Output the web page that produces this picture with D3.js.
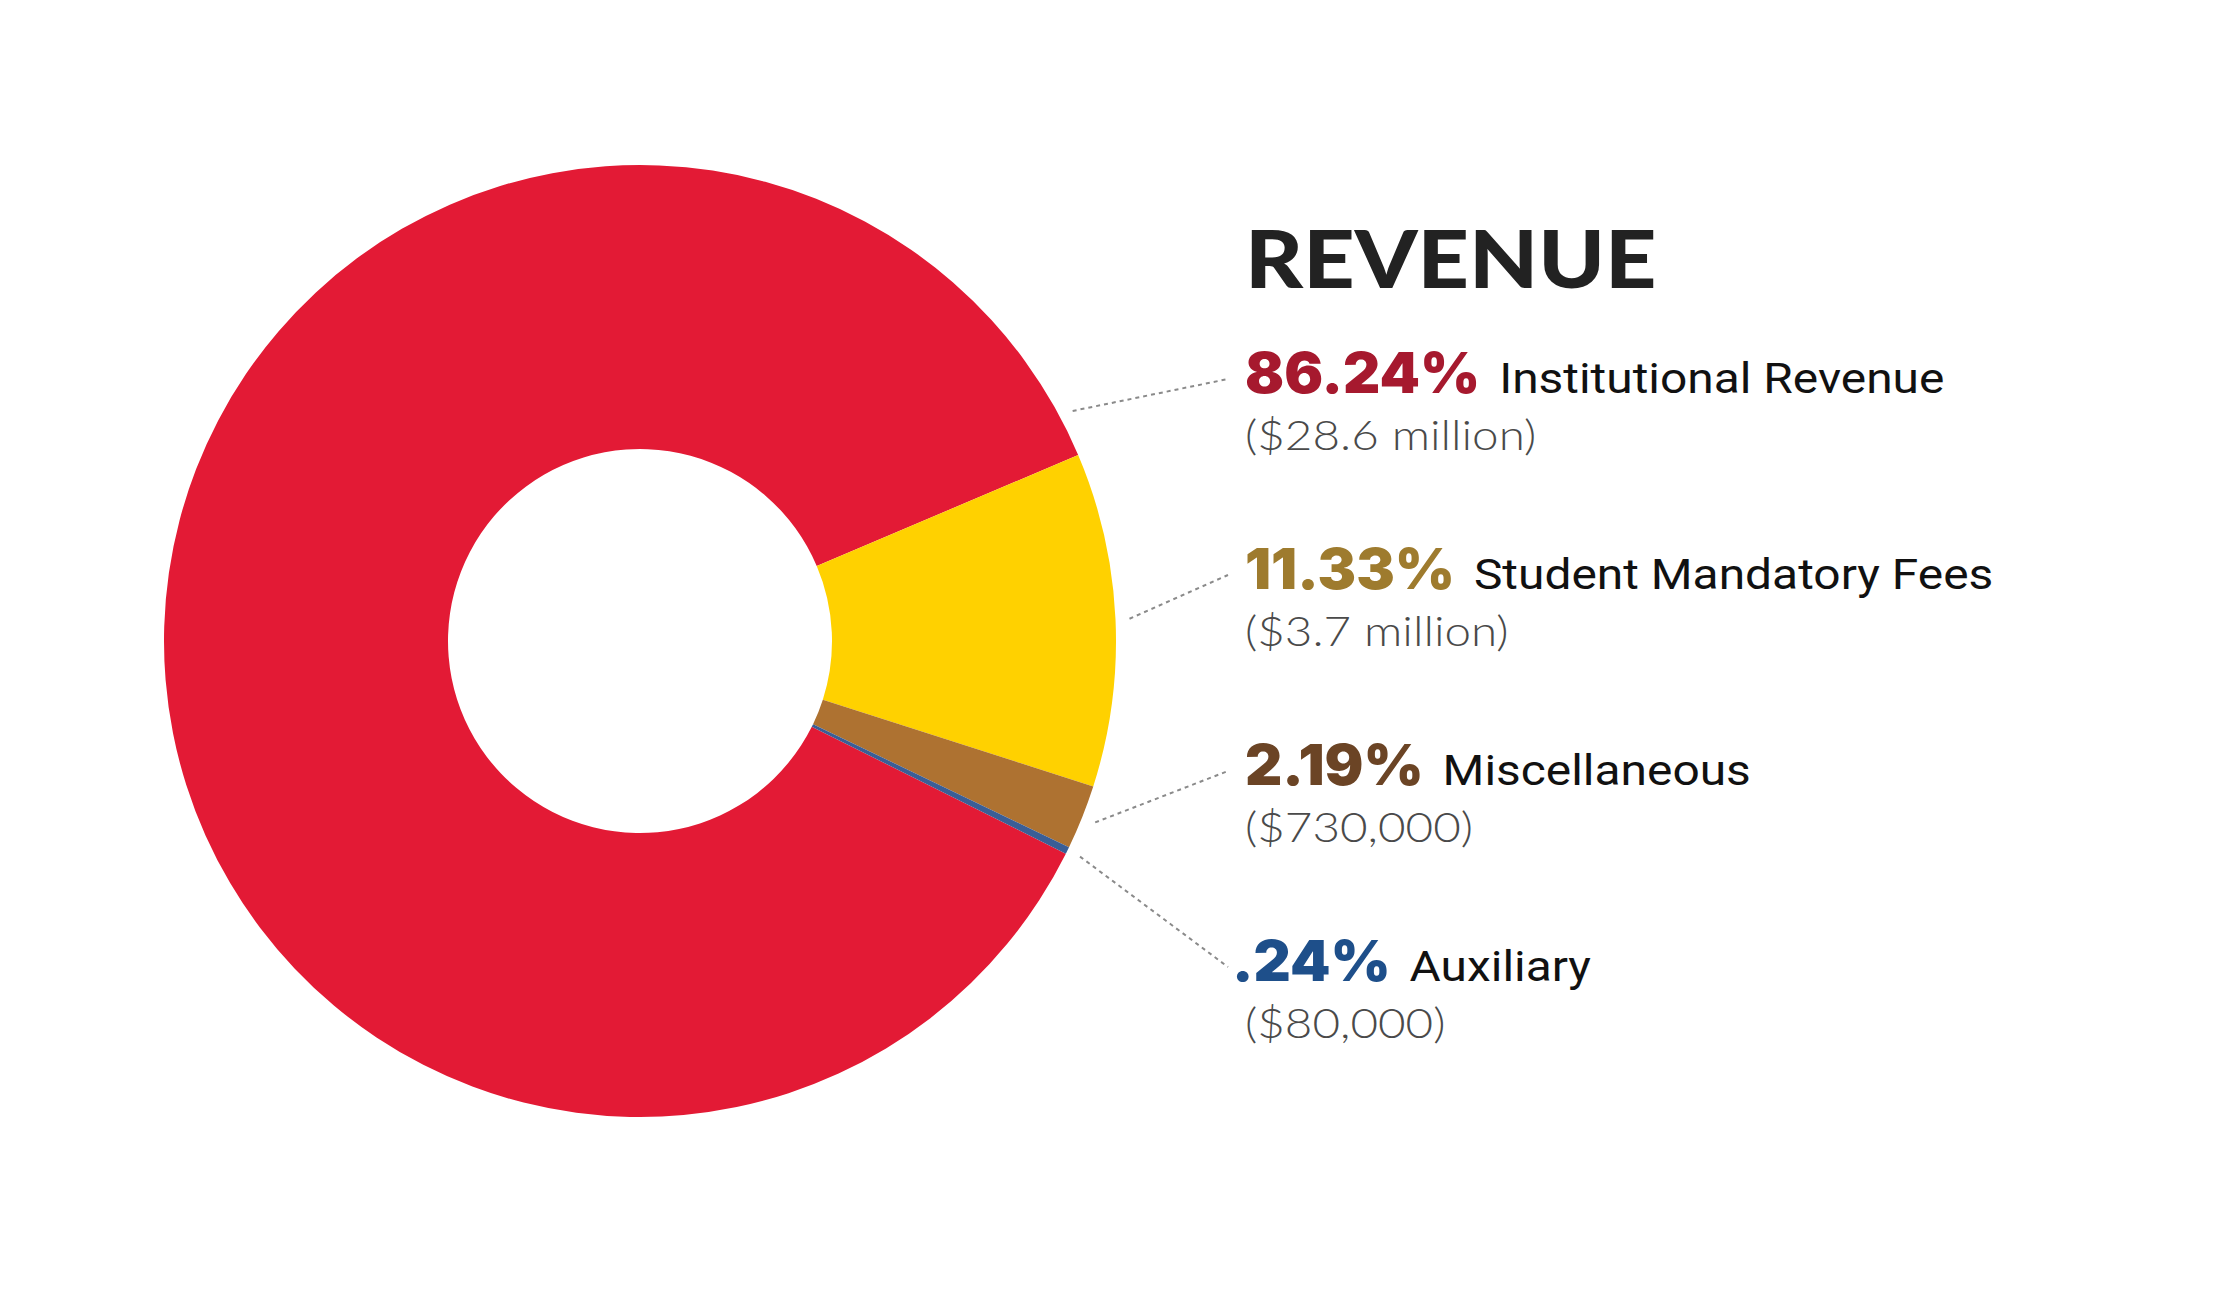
<!DOCTYPE html>
<html>
<head>
<meta charset="utf-8">
<script src="https://cdn.jsdelivr.net/npm/d3@7"></script>
<style>
    html, body { margin: 0; padding: 0; background: #fff; }
    svg { display: block; }
</style>
</head>
<body>
<div id="chart"></div>
<script>
// Data, in label order (top to bottom)
var categories = ["Institutional Revenue", "Student Mandatory Fees", "Miscellaneous", "Auxiliary"];
var shares = [86.24, 11.33, 2.19, 0.24];
var shareLabels = ["86.24%", "11.33%", "2.19%", ".24%"];
var amountLabels = ["($28.6 million)", "($3.7 million)", "($730,000)", "($80,000)"];
var sliceColors = ["#E31A35", "#FFD100", "#AE7231", "#3A5E96"];
var textColors = ["#A6192E", "#9E7B2E", "#6B4425", "#1E4F8A"];
var title = "REVENUE";

var width = 2221, height = 1292;
var cx = 640, cy = 641, outerR = 476, innerR = 192;
var labelX = 1245, titleY = 288, firstY = 393, stepY = 196, subDy = 57;
var deg = Math.PI / 180;
// the big slice ends at ~67deg (clockwise from 12 o'clock)
var startAngle = 67 * deg - (shares[0] / 100) * 2 * Math.PI;

var data = categories.map(function (c, i) {
    return { name: c, value: shares[i], pct: shareLabels[i], amount: amountLabels[i],
             color: sliceColors[i], textColor: textColors[i] };
});

var svg = d3.select("#chart").append("svg")
    .attr("width", width)
    .attr("height", height);

var pie = d3.pie().sort(null).value(function (d) { return d.value; })
    .startAngle(startAngle).endAngle(startAngle + 2 * Math.PI);
var arcs = pie(data);
var arc = d3.arc().innerRadius(innerR).outerRadius(outerR);

var g = svg.append("g").attr("transform", "translate(" + cx + "," + cy + ")");
g.selectAll("path.slice")
    .data(arcs)
    .enter().append("path")
    .attr("class", "slice")
    .attr("d", arc)
    .attr("fill", function (d) { return d.data.color; });

// stretch/squeeze text horizontally to get closer to the original face
function fitWidth(sel, k) {
    sel.each(function () {
        var w = this.getComputedTextLength();
        d3.select(this).attr("textLength", w * k).attr("lengthAdjust", "spacingAndGlyphs");
    });
}

svg.append("text")
    .attr("x", labelX)
    .attr("y", titleY)
    .attr("fill", "#222")
    .style("font-family", "Lato")
    .style("font-weight", 900)
    .style("font-size", "80px")
    .text(title)
    .call(fitWidth, 1.12);

var labels = svg.selectAll("g.label")
    .data(arcs)
    .enter().append("g")
    .attr("class", "label")
    .attr("transform", function (d, i) { return "translate(" + labelX + "," + (firstY + i * stepY) + ")"; });

labels.each(function (d) {
    var lg = d3.select(this);
    var pct = lg.append("text")
        .attr("fill", d.data.textColor)
        .style("font-family", "Inter")
        .style("font-weight", 900)
        .style("font-size", "56px")
        .text(d.data.pct)
        .call(fitWidth, 1.03);
    // hang a leading dot into the margin
    var shift = 0;
    if (d.data.pct.charAt(0) === ".") {
        shift = -13;
        pct.attr("x", shift);
    }
    var pw = +pct.attr("textLength");
    lg.append("text")
        .attr("x", shift + pw + 19)
        .attr("fill", "#111")
        .style("font-family", "Roboto")
        .style("font-weight", 400)
        .style("font-size", "42px")
        .text(d.data.name)
        .call(fitWidth, 1.14);
    lg.append("text")
        .attr("y", subDy)
        .attr("fill", "#4a4a4a")
        .style("font-family", "Lato")
        .style("font-weight", 300)
        .style("font-size", "41px")
        .text(d.data.amount)
        .call(fitWidth, 1.16);
});

// leader lines: small slices point from their middle, the big one
// from the point of its rim nearest to the label
function anchorAngle(d, tx, ty) {
    var span = d.endAngle - d.startAngle;
    if (span < Math.PI / 2) return (d.startAngle + d.endAngle) / 2;
    var a = Math.atan2(tx - cx, -(ty - cy));
    while (a < d.startAngle) a += 2 * Math.PI;
    while (a > d.endAngle + Math.PI) a -= 2 * Math.PI;
    return Math.max(d.startAngle + 5 * deg, Math.min(d.endAngle - 5 * deg, a));
}

svg.selectAll("line.leader")
    .data(arcs)
    .enter().append("line")
    .attr("class", "leader")
    .each(function (d, i) {
        var tx = labelX - 17, ty = firstY + i * stepY - 14;
        var a = anchorAngle(d, tx, ty);
        var r = outerR + 14;
        d3.select(this)
            .attr("x1", cx + r * Math.sin(a))
            .attr("y1", cy - r * Math.cos(a))
            .attr("x2", tx)
            .attr("y2", ty);
    })
    .attr("stroke", "#8a8a8a")
    .attr("stroke-width", 2)
    .attr("stroke-dasharray", "4,4");
</script>
</body>
</html>
